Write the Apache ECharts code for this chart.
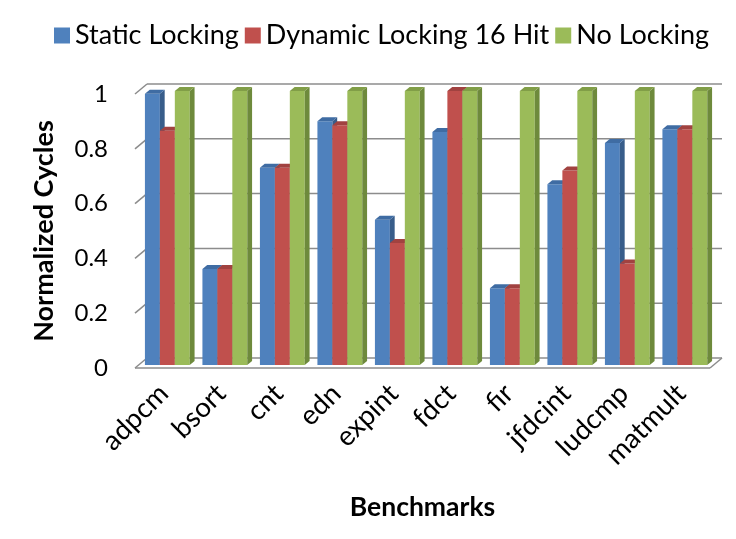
<!DOCTYPE html>
<html>
<head>
<meta charset="utf-8">
<script src="https://cdn.jsdelivr.net/npm/echarts@6/dist/echarts.min.js"></script>
<style>
  html, body { margin: 0; padding: 0; background: #fff; }
  #chart { width: 736px; height: 539px; }
</style>
</head>
<body>
<div id="chart"></div>
<script>
// Benchmarks and normalized cycle counts per locking scheme
const categories = ['adpcm', 'bsort', 'cnt', 'edn', 'expint', 'fdct', 'fir', 'jfdcint', 'ludcmp', 'matmult'];
const staticLocking = [0.99, 0.35, 0.72, 0.89, 0.53, 0.85, 0.28, 0.66, 0.81, 0.86];
const dynamicLocking16Hit = [0.855, 0.35, 0.72, 0.875, 0.445, 1.0, 0.28, 0.71, 0.37, 0.86];
const noLocking = [1, 1, 1, 1, 1, 1, 1, 1, 1, 1];
const seriesNames = ['Static Locking', 'Dynamic Locking 16 Hit', 'No Locking'];
const yTicks = [0, 0.2, 0.4, 0.6, 0.8, 1];

const FONT = 'Lato';

// pseudo-3D geometry (pixels): full depth of the plot box, bar inset and bar depth
const DEPTH = [12, -10];
const BAR_INSET = [3.6, -3];
const BAR_DEPTH = [4.8, -4];
const BAR_FRAC = 0.26;

const palette = [
  { front: '#4F81BD', side: '#385D8A', top: '#3F6CA3' },
  { front: '#C0504D', side: '#8C3A38', top: '#A14240' },
  { front: '#9BBB59', side: '#6E8A3C', top: '#819E47' }
];

function barRenderer(idx) {
  const c = palette[idx];
  return function (params, api) {
    const cat = api.value(0);
    const v = api.value(1);
    const base = api.coord([cat, 0]);
    const tip = api.coord([cat, v]);
    const band = api.size([1, 0])[0];
    const w = band * BAR_FRAC;
    const x0 = base[0] - 1.5 * w + idx * w + BAR_INSET[0];
    const yb = base[1] + BAR_INSET[1];
    const yt = tip[1] + BAR_INSET[1];
    const dx = BAR_DEPTH[0], dy = BAR_DEPTH[1];
    return {
      type: 'group',
      children: [
        { type: 'rect', shape: { x: x0, y: yt, width: w, height: yb - yt }, style: { fill: c.front } },
        { type: 'polygon', shape: { points: [[x0 + w, yt], [x0 + w + dx, yt + dy], [x0 + w + dx, yb + dy], [x0 + w, yb]] }, style: { fill: c.side } },
        { type: 'polygon', shape: { points: [[x0, yt], [x0 + dx, yt + dy], [x0 + w + dx, yt + dy], [x0 + w, yt]] }, style: { fill: c.top } }
      ]
    };
  };
}

// back wall gridlines, side ticks and the floor outline
function frameRenderer(params, api) {
  const cs = params.coordSys;
  const v = api.value(1);
  const y = api.coord([0, v])[1];
  const left = cs.x, right = cs.x + cs.width;
  const lineStyle = { stroke: '#8C8C8C', lineWidth: 1.5, fill: null };
  const children = [
    { type: 'line', shape: { x1: left, y1: y, x2: left + DEPTH[0], y2: y + DEPTH[1] }, style: lineStyle },
    { type: 'line', shape: { x1: left + DEPTH[0], y1: y + DEPTH[1], x2: right + DEPTH[0], y2: y + DEPTH[1] }, style: lineStyle }
  ];
  if (v === 0) {
    children.push(
      { type: 'line', shape: { x1: left, y1: y, x2: right, y2: y }, style: lineStyle },
      { type: 'line', shape: { x1: right, y1: y, x2: right + DEPTH[0], y2: y + DEPTH[1] }, style: lineStyle }
    );
  }
  return { type: 'group', children: children };
}

const seriesValues = [staticLocking, dynamicLocking16Hit, noLocking];

const chart = echarts.init(document.getElementById('chart'), null, { renderer: 'canvas' });
chart.setOption({
  animation: false,
  backgroundColor: '#fff',
  textStyle: { fontFamily: FONT },
  legend: {
    left: 49,
    top: 17,
    icon: 'rect',
    itemWidth: 16,
    itemHeight: 16,
    itemGap: 6,
    textStyle: { fontFamily: FONT, fontSize: 27, color: '#000' },
    data: seriesNames
  },
  grid: { left: 135, right: 26, top: 94, bottom: 171 },
  xAxis: {
    type: 'category',
    data: categories,
    axisLine: { show: false },
    axisTick: { show: false },
    axisLabel: { rotate: 45, margin: 21, fontFamily: FONT, fontSize: 27.5, color: '#000', interval: 0 },
    name: 'Benchmarks',
    nameLocation: 'middle',
    nameGap: 126,
    nameTextStyle: { fontFamily: FONT, fontSize: 26.5, fontWeight: 'bold', color: '#000' }
  },
  yAxis: {
    type: 'value',
    min: 0,
    max: 1,
    interval: 0.2,
    axisLine: { show: false },
    axisTick: { show: false },
    splitLine: { show: false },
    axisLabel: { margin: 27, fontFamily: FONT, fontSize: 24, color: '#000', padding: [6, 0, 0, 0] },
    name: 'Normalized Cycles',
    nameLocation: 'middle',
    nameRotate: 90,
    nameGap: 77,
    nameTextStyle: { fontFamily: FONT, fontSize: 27, fontWeight: 'bold', color: '#000' }
  },
  series: [
    {
      type: 'custom',
      name: 'frame',
      silent: true,
      z: 1,
      renderItem: frameRenderer,
      data: yTicks.map(function (v) { return [0, v]; })
    }
  ].concat(seriesValues.map(function (vals, i) {
    return {
      type: 'custom',
      name: seriesNames[i],
      z: 2,
      itemStyle: { color: palette[i].front },
      renderItem: barRenderer(i),
      encode: { x: 0, y: 1 },
      data: vals.map(function (v, j) { return [j, v]; })
    };
  }))
});
</script>
</body>
</html>
